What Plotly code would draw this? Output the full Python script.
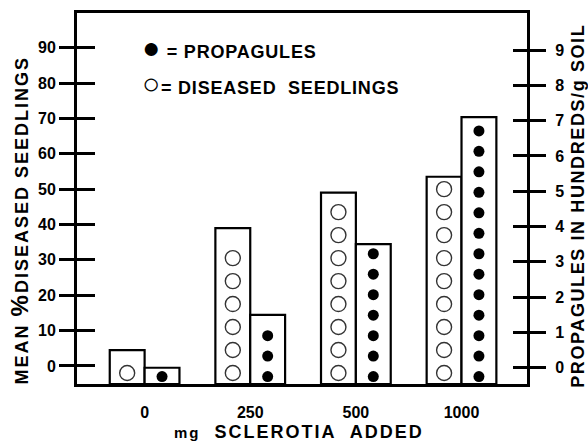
import numpy as np
import plotly.graph_objects as go

# ---- data ----
categories = ["0", "250", "500", "1000"]          # mg sclerotia added
diseased_pct = [4.5, 39, 49, 53.5]                # mean % diseased seedlings (left axis)
propagules_h = [0, 1.5, 3.5, 7.1]                 # propagules in hundreds / g soil (right axis)
left_ticks = [0, 10, 20, 30, 40, 50, 60, 70, 80, 90]
right_ticks = [0, 1, 2, 3, 4, 5, 6, 7, 8, 9]

# ---- styling / layout constants ----
L_MIN, L_MAX = -5.1, 99.8
R_MIN, R_MAX = -0.46, 10.05
BAR_W = 0.33
TICK_FONT = dict(family="Liberation Sans Narrow, Liberation Sans, Arial, sans-serif",
                 size=16, color="black", weight="bold")
TITLE_FONT = dict(family="Liberation Sans, Arial, sans-serif", size=18, color="black",
                  weight="bold")

idx = np.arange(len(categories))

fig = go.Figure()

# bars (drawn from the axis bottom up to the value)
fig.add_trace(go.Bar(
    x=idx, y=[v - L_MIN for v in diseased_pct], base=L_MIN,
    width=BAR_W, offset=-BAR_W, yaxis="y",
    marker=dict(color="white", line=dict(color="black", width=2.2)),
    name="DISEASED SEEDLINGS", showlegend=False))
fig.add_trace(go.Bar(
    x=idx, y=[v - R_MIN for v in propagules_h], base=R_MIN,
    width=BAR_W, offset=0, yaxis="y2",
    marker=dict(color="white", line=dict(color="black", width=2.2)),
    name="PROPAGULES", showlegend=False))

# column of open circles inside each diseased-seedlings bar
cx, cy = [], []
for i, v in zip(idx, diseased_pct):
    ys = np.arange(-2.0, v - 3.0 + 1e-9, 6.5)
    cx += [i - BAR_W / 2] * len(ys)
    cy += list(ys)
fig.add_trace(go.Scatter(
    x=cx, y=cy, mode="markers", yaxis="y", showlegend=False, hoverinfo="skip",
    marker=dict(symbol="circle-open", size=15, color="#333",
                line=dict(width=1.4, color="#333"))))

# column of filled dots inside each propagule bar
dx, dy = [], []
for i, v in zip(idx, propagules_h):
    ys = np.arange(-0.25, v - 0.25 + 1e-9, 0.58)
    dx += [i + BAR_W / 2] * len(ys)
    dy += list(ys)
fig.add_trace(go.Scatter(
    x=dx, y=dy, mode="markers", yaxis="y2", showlegend=False, hoverinfo="skip",
    marker=dict(symbol="circle", size=11, color="black")))

fig.add_trace(go.Scatter(x=[None], y=[None], yaxis="y3", showlegend=False))
fig.add_trace(go.Scatter(x=[None], y=[None], yaxis="y4", showlegend=False))

axis_common = dict(showgrid=False, zeroline=False, ticks="outside",
                   tickwidth=3, tickcolor="black", linecolor="black", automargin=False)


def spaced(txt, px):
    return f"<span style='letter-spacing:{px}px'>{txt}</span>"


fig.update_layout(
    width=588, height=441,
    margin=dict(l=77, r=61, t=13, b=57),
    paper_bgcolor="white", plot_bgcolor="white",
    barmode="overlay",
    xaxis=dict(range=[-0.64, 3.62], tickvals=list(idx), ticktext=categories,
               showgrid=False, zeroline=False, ticks="", showline=True,
               linewidth=3, linecolor="black", mirror=True, automargin=False,
               tickfont=TICK_FONT, ticklabelstandoff=12),
    yaxis=dict(range=[L_MIN, L_MAX], tickvals=left_ticks, ticklen=15,
               showline=True, linewidth=3, tickfont=TICK_FONT, **axis_common),
    yaxis3=dict(range=[L_MIN, L_MAX], tickvals=left_ticks, overlaying="y", side="left",
                showticklabels=False, showgrid=False, zeroline=False, ticks="inside",
                ticklen=18, tickwidth=3, tickcolor="black", showline=False),
    yaxis2=dict(range=[R_MIN, R_MAX], tickvals=right_ticks, overlaying="y", side="right",
                ticklen=16, showline=True, linewidth=3, tickfont=TICK_FONT,
                ticklabelstandoff=6, **axis_common),
    yaxis4=dict(range=[R_MIN, R_MAX], tickvals=right_ticks, overlaying="y", side="right",
                showticklabels=False, showgrid=False, zeroline=False, ticks="inside",
                ticklen=14, tickwidth=3, tickcolor="black", showline=False),
    annotations=[
        dict(text=spaced("MEAN <span style='font-size:24px'>%</span>DISEASED SEEDLINGS", 2),
             xref="paper", yref="paper", x=-0.128, y=0.442, textangle=-90,
             showarrow=False, font=TITLE_FONT, xanchor="center", yanchor="middle"),
        dict(text=spaced("PROPAGULES IN HUNDREDS/g SOIL", 1.6),
             xref="paper", yref="paper", x=1.113, y=0.48, textangle=-90,
             showarrow=False, font=TITLE_FONT, xanchor="center", yanchor="middle"),
        dict(text=spaced("<span style='font-size:15px'>mg</span>\u00a0 SCLEROTIA\u00a0 ADDED", 2),
             xref="paper", yref="paper", x=0.493, y=-0.129,
             showarrow=False, font=TITLE_FONT, xanchor="center", yanchor="middle"),
        dict(text=spaced("<span style='font-size:30px'>\u25cf</span>\u00a0= PROPAGULES", 0.8),
             xref="paper", yref="paper", x=0.14, y=0.906,
             showarrow=False, font=TITLE_FONT, xanchor="left", yanchor="middle"),
        dict(text=spaced("<span style='font-size:30px'>\u25cb</span>= DISEASED\u00a0 SEEDLINGS", 0.8),
             xref="paper", yref="paper", x=0.14, y=0.811,
             showarrow=False, font=TITLE_FONT, xanchor="left", yanchor="middle"),
    ],
)

fig.write_html("out.html", config={"displayModeBar": False},
               post_script="document.body.style.margin='0';")
